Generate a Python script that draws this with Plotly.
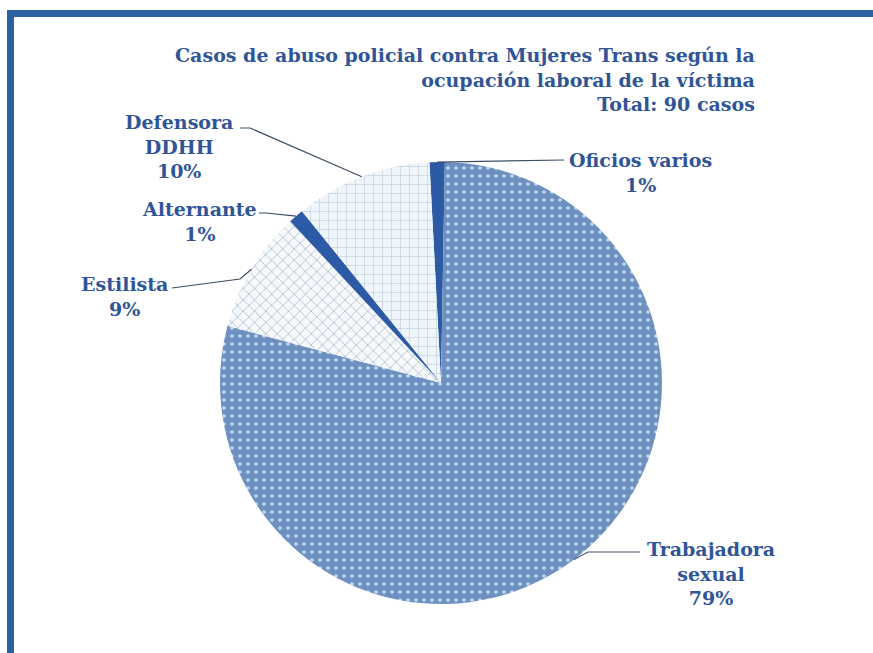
import math
import plotly.graph_objects as go

# ---- data ----
labels = ["Oficios varios", "Trabajadora sexual", "Estilista", "Alternante", "Defensora DDHH"]
label_lines = ["Oficios varios", "Trabajadora<br>sexual", "Estilista", "Alternante", "Defensora<br>DDHH"]
cases = [1, 71, 8, 1, 9]
title_lines = ["Casos de abuso policial contra Mujeres Trans según la",
               "ocupación laboral de la víctima",
               "Total: 90 casos"]

# ---- style / layout ----
W, H = 873, 653
CX, CY, R = 441, 383, 221
ROTATION = -3
TXT = "#2f5597"
FONT = "DejaVu Serif"
FS = 19

bg_colors = ["#2c5aa4", "#bcd9ef", "#f6f9fc", "#2c5aa4", "#eef5fb"]
pat_shapes = ["", ".", "x", "", "+"]
pat_fg = ["#2c5aa4", "#1d4894", "#7d90a8", "#2c5aa4", "#98a8ba"]
pat_size = [6, 8, 8, 6, 9]
pat_solid = [0.3, 0.8, 0.22, 0.3, 0.14]

# label centers (px) and leader-line waypoints (px), per slice
label_pos = [(640, 172), (711, 573), (124, 296), (199, 222), (179, 146)]
leader_pts = [[(564, 160)], [(588, 552), (640, 552)], [(240, 279), (172, 288)],
              [(266, 213), (259, 213)], [(250, 128), (240, 128)]]

def px(x):
    return x / W

def py(y):
    return 1 - y / H

total = sum(cases)
fig = go.Figure(go.Pie(
    labels=labels, values=cases, sort=False, direction="clockwise",
    rotation=ROTATION, textinfo="none", hoverinfo="label+percent",
    marker=dict(colors=bg_colors, line=dict(width=0),
                pattern=dict(shape=pat_shapes, fgcolor=pat_fg, size=pat_size,
                             solidity=pat_solid, fillmode="overlay")),
    domain=dict(x=[px(CX - R), px(CX + R)], y=[py(CY + R), py(CY - R)]),
    showlegend=False,
))

annotations = []
shapes = []
cum = 0
for i, v in enumerate(cases):
    mid = ROTATION + (cum + v / 2) / total * 360
    cum += v
    ex = CX + R * math.sin(math.radians(mid))
    ey = CY - R * math.cos(math.radians(mid))
    pct = round(v / total * 100)
    lx, ly = label_pos[i]
    annotations.append(dict(
        x=px(lx), y=py(ly), xref="paper", yref="paper", showarrow=False,
        xanchor="center", yanchor="middle", align="center",
        text=f"<b>{label_lines[i]}<br>{pct}%</b>",
        font=dict(family=FONT, size=FS, color=TXT)))
    path = f"M {px(ex)},{py(ey)}"
    for (qx, qy) in leader_pts[i]:
        path += f" L {px(qx)},{py(qy)}"
    shapes.append(dict(type="path", xref="paper", yref="paper", path=path,
                       line=dict(color="#3d4f66", width=1.2)))

annotations.append(dict(
    x=px(757), y=py(80), xref="paper", yref="paper", showarrow=False,
    xanchor="right", yanchor="middle", align="right",
    text="<b>" + "<br>".join(title_lines) + "</b>",
    font=dict(family=FONT, size=FS, color=TXT)))

shapes.append(dict(type="rect", xref="paper", yref="paper",
                   x0=px(10.5), y0=-0.2, x1=1.2, y1=py(13.5),
                   line=dict(color="#2b5fa3", width=7), fillcolor="rgba(0,0,0,0)"))

fig.update_layout(
    width=W, height=H, margin=dict(l=0, r=0, t=0, b=0),
    paper_bgcolor="white", plot_bgcolor="white",
    font=dict(family=FONT),
    annotations=annotations, shapes=shapes,
)

fig.write_html("out.html")
